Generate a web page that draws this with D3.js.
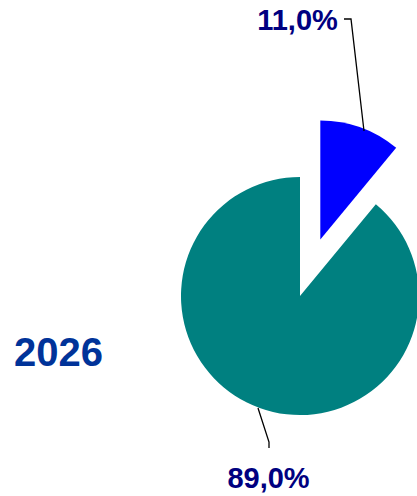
<!DOCTYPE html>
<html><head><meta charset="utf-8">
<script src="https://cdn.jsdelivr.net/npm/d3@7"></script>
<style>html,body{margin:0;padding:0;background:#fff;overflow:hidden}</style>
</head><body>
<script>
const categories = ["A", "B"];
const values = [11.0, 89.0];
const labels = ["11,0%", "89,0%"];
const colors = ["#0000FF", "#008080"];
const yearLabel = "2026";

const W = 417, H = 496;
const svg = d3.select("body").append("svg").attr("width", W).attr("height", H);
const cx = 300, cy = 296, r = 119, explode = 60;

const pie = d3.pie().sort(null).value(d => d)(values);
const arc = d3.arc().innerRadius(0).outerRadius(r);

const g = svg.append("g").attr("transform", `translate(${cx},${cy})`);
pie.forEach((p, i) => {
  const mid = (p.startAngle + p.endAngle) / 2;
  const off = i === 0 ? explode : 0;
  g.append("path")
    .attr("d", arc(p))
    .attr("fill", colors[i])
    .attr("transform", `translate(${Math.sin(mid) * off},${-Math.cos(mid) * off})`);
});

// leader lines
svg.append("polyline")
  .attr("points", "344,19 351,19 364,131")
  .attr("fill", "none").attr("stroke", "#000").attr("stroke-width", 1.3);
svg.append("polyline")
  .attr("points", "258,408 269,442 269,448")
  .attr("fill", "none").attr("stroke", "#000").attr("stroke-width", 1.3);

svg.append("text").attr("x", 297.5).attr("y", 30).attr("text-anchor", "middle")
  .attr("font-family", "Liberation Sans, Arial, sans-serif").attr("font-weight", "bold")
  .attr("font-size", 29).attr("fill", "#000080").text(labels[0]);
svg.append("text").attr("x", 268.5).attr("y", 488).attr("text-anchor", "middle")
  .attr("font-family", "Liberation Sans, Arial, sans-serif").attr("font-weight", "bold")
  .attr("font-size", 29).attr("fill", "#000080").text(labels[1]);

svg.append("text").attr("x", 14).attr("y", 366)
  .attr("font-family", "Liberation Sans, Arial, sans-serif").attr("font-weight", "bold")
  .attr("font-size", 40).attr("fill", "#003399").text(yearLabel);
</script>
</body></html>
